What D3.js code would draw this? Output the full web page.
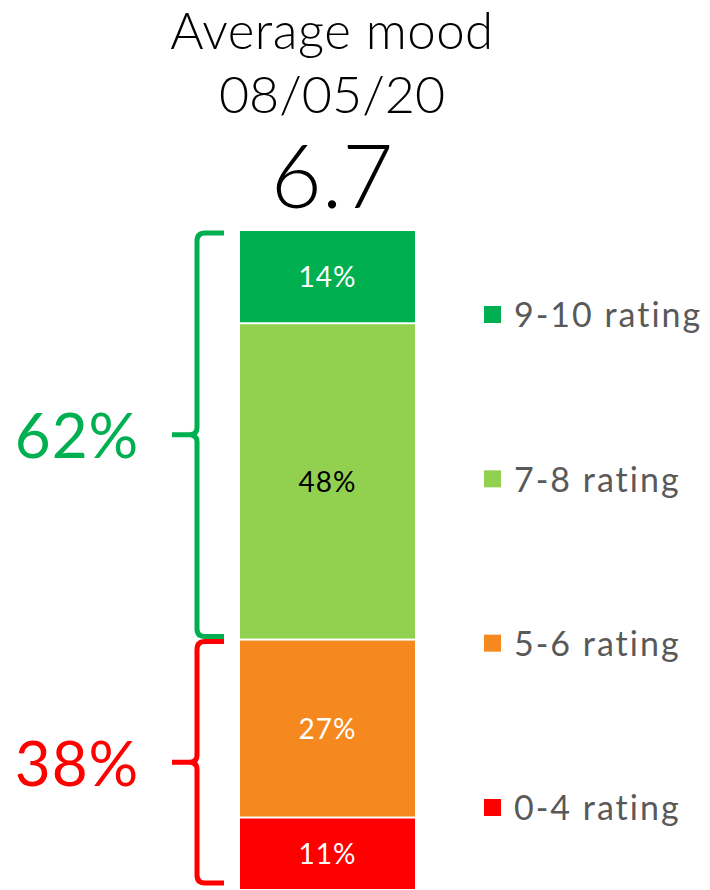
<!DOCTYPE html>
<html>
<head>
<meta charset="utf-8">
<script src="https://cdn.jsdelivr.net/npm/d3@7"></script>
<style>
  body { margin: 0; background: #fff; }
  svg { display: block; font-family: "Lato", "Noto Sans", sans-serif; }
</style>
</head>
<body>
<div id="chart"></div>
<script>
// rating bands, top to bottom
var categories = ["9-10 rating", "7-8 rating", "5-6 rating", "0-4 rating"];
var shares = [14, 48, 27, 11];
var colors = ["#00B050", "#92D050", "#F5891F", "#FF0000"];
var labelColors = ["#fff", "#000", "#fff", "#fff"];
// grouped totals shown next to the braces
var groups = [
  { label: "62%", from: 0, to: 1, color: "#00B050" },
  { label: "38%", from: 2, to: 3, color: "#FF0000" }
];
var titleLines = ["Average mood", "08/05/20"];
var average = "6.7";

var width = 710, height = 890;

var svg = d3.select("#chart").append("svg")
  .attr("width", width)
  .attr("height", height);

// stack from the bottom up
var stacked = [];
var acc = 0;
for (var i = shares.length - 1; i >= 0; i--) {
  stacked[i] = { cat: categories[i], v: shares[i], y0: acc, y1: acc + shares[i], i: i };
  acc += shares[i];
}

var yscale = d3.scaleLinear().domain([0, 100]).range([890, 231]);
var xscale = d3.scaleBand().domain(["mood"]).range([240, 415]);

// title
svg.append("text")
  .attr("x", 332).attr("y", 49)
  .attr("text-anchor", "middle")
  .style("font-size", "51px")
  .style("font-weight", 300)
  .style("letter-spacing", "0.5px")
  .text(titleLines[0]);
svg.append("text")
  .attr("x", 332).attr("y", 113)
  .attr("text-anchor", "middle")
  .style("font-size", "52px")
  .style("font-weight", 300)
  .text(titleLines[1]);
svg.append("text")
  .attr("x", 332).attr("y", 208)
  .attr("text-anchor", "middle")
  .style("font-size", "88px")
  .style("font-weight", 300)
  .text(average);

// bar segments
svg.selectAll("rect.seg")
  .data(stacked)
  .enter()
  .append("rect")
  .attr("class", "seg")
  .attr("x", xscale("mood"))
  .attr("width", xscale.bandwidth())
  .attr("y", d => yscale(d.y1) + (d.i == 0 ? 0 : 1))
  .attr("height", d => yscale(d.y0) - yscale(d.y1) - (d.i == 0 ? 1 : 2))
  .attr("fill", d => colors[d.i]);

svg.selectAll("text.seg")
  .data(stacked)
  .enter()
  .append("text")
  .attr("class", "seg")
  .attr("x", xscale("mood") + xscale.bandwidth() / 2)
  .attr("y", d => yscale((d.y0 + d.y1) / 2))
  .attr("dy", "0.36em")
  .attr("text-anchor", "middle")
  .style("font-size", "28px")
  .style("letter-spacing", "1px")
  .attr("fill", d => labelColors[d.i])
  .text(d => d.v + "%");

// braces
var bx = 197, arm = 224, tip = 172;
function brace(top, bot) {
  var mid = (top + bot) / 2;
  return "M" + arm + "," + top +
    " L" + (bx + 8) + "," + top +
    " Q" + bx + "," + top + " " + bx + "," + (top + 8) +
    " L" + bx + "," + (mid - 7) +
    " Q" + bx + "," + mid + " " + (bx - 8) + "," + mid +
    " L" + tip + "," + mid +
    " M" + (bx - 8) + "," + mid +
    " Q" + bx + "," + mid + " " + bx + "," + (mid + 7) +
    " L" + bx + "," + (bot - 8) +
    " Q" + bx + "," + bot + " " + (bx + 8) + "," + bot +
    " L" + arm + "," + bot;
}

groups.forEach(function(g) {
  var top = yscale(stacked[g.from].y1) + 2;
  var bot = Math.min(yscale(stacked[g.to].y0) - 3, 883);
  svg.append("path")
    .attr("d", brace(top, bot))
    .attr("fill", "none")
    .attr("stroke", g.color)
    .attr("stroke-width", 5);
  svg.append("text")
    .attr("x", 77).attr("y", (top + bot) / 2 + 1)
    .attr("dy", "0.36em")
    .attr("text-anchor", "middle")
    .style("font-size", "62px")
    .style("letter-spacing", "1px")
    .attr("fill", g.color)
    .text(g.label);
});

// legend
var legendY = d3.scalePoint().domain(categories).range([315, 808]);
var legend = svg.selectAll("g.legend")
  .data(categories)
  .enter()
  .append("g")
  .attr("class", "legend")
  .attr("transform", d => "translate(484," + legendY(d) + ")");
legend.append("rect")
  .attr("x", 0).attr("y", -9)
  .attr("width", 17).attr("height", 17)
  .attr("fill", (d, i) => colors[i]);
legend.append("text")
  .attr("x", 30).attr("y", 0)
  .attr("dy", "0.36em")
  .style("font-size", "34px")
  .style("letter-spacing", "2px")
  .attr("fill", "#595959")
  .text(d => d);
</script>
</body>
</html>
